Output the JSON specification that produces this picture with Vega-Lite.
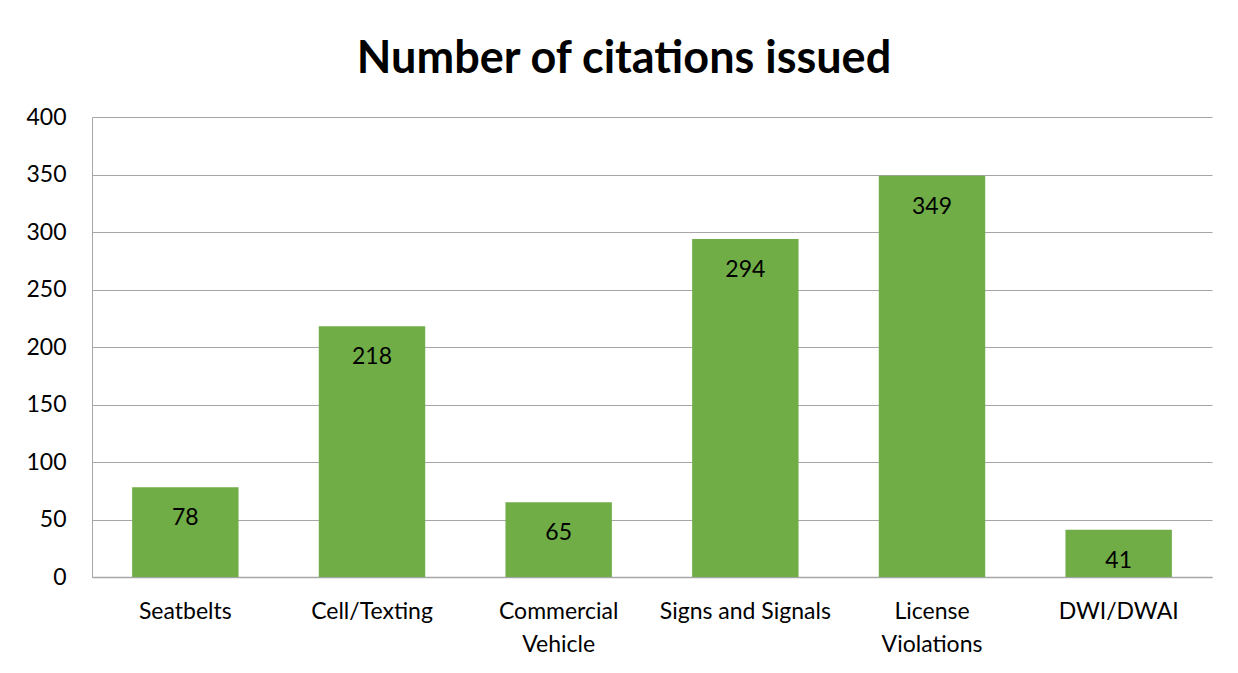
{
  "$schema": "https://vega.github.io/schema/vega-lite/v6.json",
  "width": 1120,
  "height": 460,
  "autosize": {"type": "none"},
  "padding": {"left": 92, "top": 117, "right": 26, "bottom": 96},
  "background": "white",
  "config": {
    "font": "Lato",
    "view": {"stroke": null}
  },
  "title": {
    "text": "Number of citations issued",
    "fontSize": 45,
    "fontWeight": "bold",
    "font": "Lato",
    "color": "#000000",
    "anchor": "middle",
    "dx": -28,
    "offset": 24
  },
  "data": {
    "values": [
      {"category": "Seatbelts", "citations": 78},
      {"category": "Cell/Texting", "citations": 218},
      {"category": "Commercial Vehicle", "citations": 65},
      {"category": "Signs and Signals", "citations": 294},
      {"category": "License Violations", "citations": 349},
      {"category": "DWI/DWAI", "citations": 41}
    ]
  },
  "encoding": {
    "x": {
      "field": "category",
      "type": "nominal",
      "sort": null,
      "scale": {"paddingInner": 0.43, "paddingOuter": 0.215},
      "axis": {
        "title": null,
        "labelAngle": 0,
        "labelFontSize": 23,
        "labelColor": "#000000",
        "labelPadding": 34,
        "labelBaseline": "middle",
        "ticks": false,
        "domainColor": "#A6A6A6",
        "domainWidth": 1.5,
        "labelLineHeight": 33,
        "labelExpr": "datum.label == 'Commercial Vehicle' ? ['Commercial', 'Vehicle'] : datum.label == 'License Violations' ? ['License', 'Violations'] : datum.label"
      }
    },
    "y": {
      "field": "citations",
      "type": "quantitative",
      "scale": {"domain": [0, 400]},
      "axis": {
        "title": null,
        "values": [0, 50, 100, 150, 200, 250, 300, 350, 400],
        "labelFontSize": 23,
        "labelColor": "#000000",
        "labelPadding": 26,
        "ticks": false,
        "domain": true,
        "domainColor": "#A6A6A6",
        "gridColor": "#A6A6A6",
        "gridWidth": 1
      }
    }
  },
  "layer": [
    {
      "mark": {"type": "bar", "color": "#70AD47"}
    },
    {
      "mark": {"type": "text", "baseline": "middle", "dy": 31, "fontSize": 23, "color": "#000000"},
      "encoding": {"text": {"field": "citations", "type": "quantitative"}}
    }
  ]
}
